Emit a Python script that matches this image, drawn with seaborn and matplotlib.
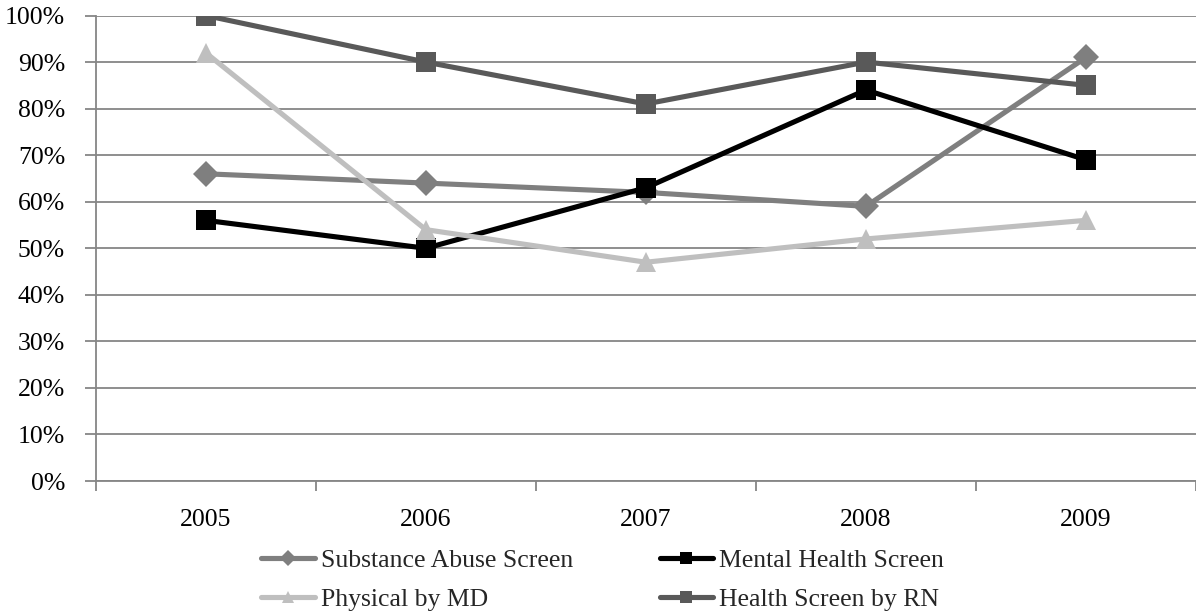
import matplotlib
matplotlib.use("Agg")
import matplotlib.pyplot as plt
import seaborn as sns
import pandas as pd
from matplotlib.ticker import FixedLocator, PercentFormatter

years = ["2005", "2006", "2007", "2008", "2009"]
substance_abuse = [66, 64, 62, 59, 91]
mental_health = [56, 50, 63, 84, 69]
physical_md = [92, 54, 47, 52, 56]
health_rn = [100, 90, 81, 90, 85]

series_names = ["Substance Abuse Screen", "Mental Health Screen",
                "Physical by MD", "Health Screen by RN"]
series_values = [substance_abuse, mental_health, physical_md, health_rn]
series_colors = ["#7f7f7f", "#000000", "#bfbfbf", "#595959"]
series_markers = ["D", "s", "^", "s"]
marker_sizes = [13, 14, 14, 14]

sns.set_theme(style="white")
plt.rcParams["font.family"] = ["Liberation Serif", "DejaVu Serif"]

FS = 18.5
fig = plt.figure(figsize=(11.96, 6.13), dpi=100)
ax = fig.add_axes([0.080, 0.2153, 0.920, 0.7594])

grid_color = "#868686"
handles = {}
for name, vals, col, mk, ms in zip(series_names, series_values, series_colors,
                                   series_markers, marker_sizes):
    df = pd.DataFrame({"x": range(len(years)), "y": vals})
    sns.lineplot(data=df, x="x", y="y", ax=ax, color=col, linewidth=3.7,
                 marker=mk, markersize=ms, markeredgewidth=0,
                 markerfacecolor=col, label=name, legend=False, zorder=3)
    handles[name] = ax.lines[-1]

ax.set_xlim(-0.5, len(years) - 0.5)
ax.set_ylim(0, 100)
ax.set_xlabel("")
ax.set_ylabel("")

ax.yaxis.set_major_locator(FixedLocator(range(0, 101, 10)))
ax.yaxis.set_major_formatter(PercentFormatter(decimals=0))
ax.grid(axis="y", color=grid_color, linewidth=1.3, zorder=0)
ax.set_axisbelow(True)

ax.set_xticks(range(len(years)))
ax.set_xticklabels(years)
ax.xaxis.set_minor_locator(FixedLocator([i - 0.5 for i in range(len(years) + 1)]))
ax.tick_params(axis="x", which="major", length=0, pad=20, labelsize=FS, colors="black")
ax.tick_params(axis="x", which="minor", length=7, width=1.3, color=grid_color, direction="out")
ax.tick_params(axis="y", which="major", length=8, width=1.3, color=grid_color,
               direction="out", pad=14, labelsize=FS, labelcolor="black")
ax.tick_params(bottom=True, left=True, which="both")

for side in ["top", "right"]:
    ax.spines[side].set_visible(False)
for side in ["left", "bottom"]:
    ax.spines[side].set_color(grid_color)
    ax.spines[side].set_linewidth(1.3)

order = ["Substance Abuse Screen", "Physical by MD",
         "Mental Health Screen", "Health Screen by RN"]
fig.legend([handles[n] for n in order], order, loc="upper center",
           bbox_to_anchor=(0.504, 0.104), ncol=2, frameon=False, fontsize=FS,
           handlelength=2.1, handletextpad=0.23, columnspacing=3.35,
           labelspacing=0.62, borderaxespad=0, borderpad=0, markerscale=0.65)

fig.savefig("out.png", dpi=100, facecolor="white")
